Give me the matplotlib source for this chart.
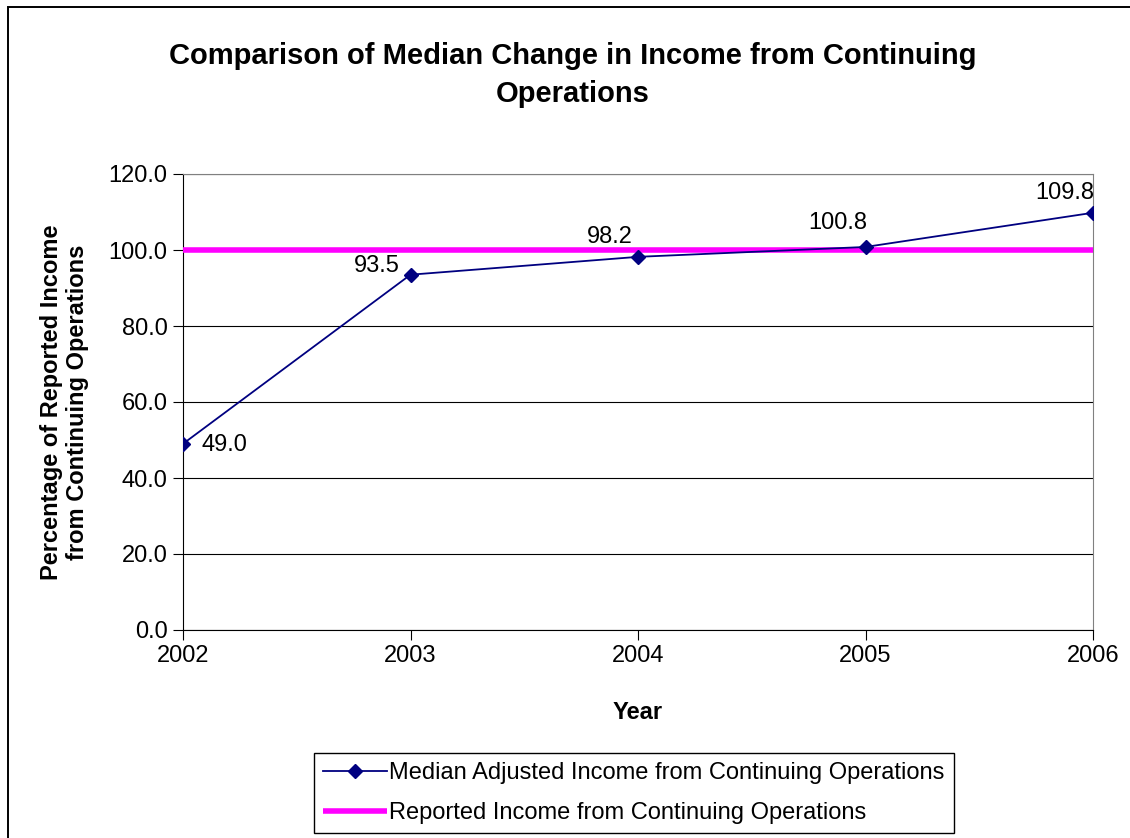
import numpy as np
import matplotlib
matplotlib.use("Agg")
import matplotlib.pyplot as plt
from matplotlib.patches import Rectangle

plt.rcParams['font.family'] = ['Liberation Sans', 'DejaVu Sans']

years = [2002, 2003, 2004, 2005, 2006]
median_adj = [49.0, 93.5, 98.2, 100.8, 109.8]
reported = [100.0, 100.0, 100.0, 100.0, 100.0]
label_offsets = [(30, -1), (-24, 6), (-20, 14), (-20, 17), (-20, 14)]

fig = plt.figure(figsize=(11.3, 8.38), dpi=100)
# chart area border (right and bottom edges run off the picture)
fig.patches.append(Rectangle((8 / 1130, -0.1), 1.2, 1.1 - 7.5 / 838, transform=fig.transFigure,
                             fill=False, edgecolor='black', linewidth=1.4))
ax = fig.add_axes([183 / 1130, 1 - 630 / 838, 910 / 1130, 456 / 838])

ax.plot(years, reported, color='#ff00ff', linewidth=4, solid_capstyle='butt',
        label='Reported Income from Continuing Operations', zorder=3)
ax.plot(years, median_adj, color='#000080', linewidth=1.3, marker='D', markersize=7,
        label='Median Adjusted Income from Continuing Operations', zorder=4)

for x, y, (dx, dy) in zip(years, median_adj, label_offsets):
    ax.annotate(f"{y:.1f}", (x, y), xytext=(dx, dy), textcoords='offset points',
                ha='center', va='center', fontsize=17)

ax.set_xlim(2002, 2006)
ax.set_ylim(0, 120)
ax.set_xticks(years)
ax.set_yticks(np.arange(0, 121, 20))
ax.set_yticklabels([f"{v:.1f}" for v in np.arange(0, 121, 20)])
ax.yaxis.grid(True, color='black', linewidth=0.8)
ax.set_axisbelow(True)
ax.tick_params(labelsize=17, length=7, color='black', pad=4)
for s in ['top', 'right']:
    ax.spines[s].set_color('#808080')
for s in ['left', 'bottom']:
    ax.spines[s].set_color('black')

ax.set_xlabel('Year', fontsize=17, fontweight='bold', labelpad=24)
ax.set_ylabel('Percentage of Reported Income\nfrom Continuing Operations', fontsize=17,
              fontweight='bold', labelpad=14, linespacing=1.2)
fig.text(573 / 1130, 1 - 75 / 838, 'Comparison of Median Change in Income from Continuing\nOperations',
         ha='center', va='center', fontsize=21, fontweight='bold', linespacing=1.45)

handles, labels = ax.get_legend_handles_labels()
leg = fig.legend(handles[::-1], labels[::-1], loc='center', bbox_to_anchor=(634 / 1130, 1 - 793 / 838),
                 fontsize=17, frameon=True, fancybox=False, edgecolor='black', framealpha=1,
                 handlelength=2.7, handletextpad=0.1, borderpad=0.4, labelspacing=0.75,
                 borderaxespad=0)
leg.get_frame().set_linewidth(1.0)

fig.savefig('out.png', dpi=100)
